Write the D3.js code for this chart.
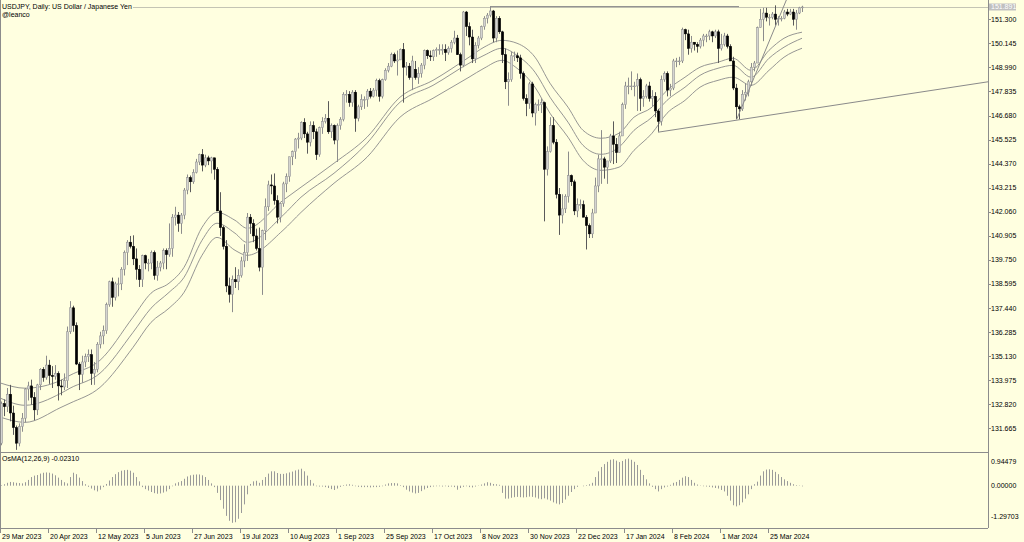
<!DOCTYPE html>
<html><head><meta charset="utf-8">
<script src="https://cdn.jsdelivr.net/npm/d3@7"></script>
<style>
body{margin:0;background:#FFFFE0;}
svg{display:block;}
text{font-family:"Liberation Sans",Arial,sans-serif;font-size:7px;fill:#000;}
</style>
</head><body><svg id="c" width="1024" height="542"></svg>
<script>
// ---------- DATA ----------
const dateLabels = ["29 Mar 2023","20 Apr 2023","12 May 2023","5 Jun 2023","27 Jun 2023","19 Jul 2023","10 Aug 2023","1 Sep 2023","25 Sep 2023","17 Oct 2023","8 Nov 2023","30 Nov 2023","22 Dec 2023","17 Jan 2024","8 Feb 2024","1 Mar 2024","25 Mar 2024"];
const dateLabelIdx = [0,16,32,48,64,80,96,112,128,144,160,176,192,208,224,240,256];
const priceTicks = [151.300,150.145,148.990,147.835,146.680,145.525,144.370,143.215,142.060,140.905,139.750,138.595,137.440,136.285,135.130,133.975,132.820,131.665];
const osmaTicks = [0.94479,0.00000,-1.29703];
const lastPrice = 151.891;
const osmaLast = -0.02310;

const opens = [130.95,132.85,132.70,133.30,132.40,131.70,130.95,131.75,132.15,133.55,
133.70,133.15,132.55,133.75,134.50,134.10,134.70,134.20,134.15,134.30,
133.70,133.65,133.95,136.30,137.45,136.60,134.75,134.25,134.85,135.10,
135.20,134.30,134.50,135.70,136.10,136.35,137.60,138.70,137.95,138.60,
138.60,139.30,140.10,140.60,140.40,139.80,139.30,138.80,139.95,139.60,
139.60,140.10,139.00,139.40,139.60,140.20,140.00,140.30,141.80,141.90,
141.50,141.90,143.10,143.70,143.50,143.95,144.45,144.80,144.30,144.65,
144.50,144.65,144.10,142.10,141.30,140.40,138.50,138.10,138.80,138.70,
139.00,139.70,140.10,141.80,141.50,140.90,140.30,139.40,141.15,142.30,
143.35,143.30,142.60,141.80,142.45,143.40,143.75,144.70,144.95,145.55,
145.60,146.35,145.80,145.40,146.20,145.90,144.80,146.10,146.40,146.55,
145.90,146.20,145.50,146.20,146.50,147.70,147.70,147.30,147.80,146.55,
147.10,147.45,147.45,147.85,147.60,147.90,148.35,147.60,148.40,148.85,
149.05,149.60,149.30,149.35,149.85,149.00,149.05,148.50,148.90,148.50,
148.70,149.10,149.80,149.55,149.50,149.80,149.85,149.85,149.85,149.70,
149.90,150.20,150.40,149.60,149.10,151.65,150.95,150.45,149.40,150.05,
150.40,150.95,151.35,151.50,151.70,150.40,151.35,150.70,149.60,148.30,
148.40,149.55,149.55,149.45,148.70,147.50,147.25,148.20,146.80,147.20,
147.20,147.30,144.10,144.95,146.20,145.40,142.90,141.90,142.20,142.80,
143.80,143.50,142.10,142.40,142.40,141.80,141.40,141.00,142.00,143.30,
144.60,144.60,144.20,144.50,145.70,145.30,144.90,145.70,147.20,148.10,
148.10,148.10,148.10,148.40,147.50,147.60,148.10,147.50,147.60,146.90,
146.40,148.40,148.70,147.90,148.00,149.30,149.30,149.30,150.80,150.60,
149.90,150.20,150.10,150.00,150.30,150.50,150.50,150.70,150.50,150.70,
149.90,150.10,150.50,150.00,149.30,148.00,147.10,147.00,147.70,147.80,
148.30,149.00,149.20,150.90,151.30,151.60,151.40,151.40,151.55,151.30,
151.35,151.35,151.65,151.55,151.65,151.30,151.60,151.85];
const highs = [132.95,133.05,133.60,133.75,132.75,131.80,131.90,132.40,133.60,133.90,
134.00,133.40,133.80,134.55,134.60,135.15,134.95,134.65,134.70,134.40,
134.00,134.30,136.55,137.77,137.55,136.75,134.85,135.15,135.25,135.45,
135.45,134.85,135.80,136.30,136.60,137.70,138.75,138.90,138.70,138.90,
139.40,140.20,140.70,140.90,140.93,140.30,139.50,140.00,140.00,139.80,
140.20,140.20,139.70,139.70,140.30,140.30,141.50,141.95,142.30,142.05,
142.00,143.20,143.85,143.80,144.10,144.60,144.85,145.07,144.80,144.75,
144.70,144.65,144.20,143.00,141.40,140.70,138.90,139.00,139.40,139.30,
139.90,140.50,142.00,141.95,141.70,141.25,141.30,141.20,142.70,143.55,
143.85,143.90,142.85,142.50,143.50,143.90,144.70,145.00,145.60,145.85,
146.40,146.55,145.90,146.40,146.40,146.05,146.15,146.60,146.75,147.37,
146.30,146.25,146.30,146.60,147.80,147.90,147.85,147.90,147.90,147.20,
147.70,147.60,147.95,148.00,148.00,148.45,148.45,148.45,148.95,149.20,
149.70,149.70,149.80,149.90,150.16,149.25,149.20,149.55,149.30,149.00,
149.20,149.85,149.85,149.80,149.85,149.95,150.10,150.10,150.10,150.00,
150.30,150.75,150.55,149.70,151.70,151.70,151.15,150.80,150.20,150.50,
151.00,151.45,151.60,151.91,151.75,151.45,151.45,150.75,149.90,148.75,
149.75,149.75,149.70,149.60,148.80,147.70,148.30,148.30,147.30,147.45,
147.50,147.35,145.20,146.60,146.60,145.55,143.20,142.90,142.90,144.95,
143.85,143.60,142.70,142.65,142.60,141.90,141.50,142.20,143.70,144.80,
145.98,144.70,144.50,145.80,146.40,145.60,145.90,147.30,148.30,148.50,
148.80,148.30,148.70,148.50,147.90,148.20,148.30,147.90,147.80,147.00,
148.60,148.80,148.80,148.20,149.40,149.45,149.50,150.90,150.85,150.80,
150.50,150.20,150.20,150.40,150.60,150.60,150.80,150.75,150.80,150.80,
150.60,150.65,150.60,150.10,149.50,148.20,147.20,147.90,148.20,148.40,
149.20,149.30,150.95,151.80,151.85,151.85,151.55,151.65,151.97,151.45,
151.45,151.75,151.80,151.80,151.80,151.75,151.90,151.95];
const lows = [130.85,132.25,132.45,132.00,131.35,130.63,130.80,131.50,131.95,133.00,
132.80,132.05,132.30,133.50,133.90,134.00,133.80,133.60,134.00,133.00,
133.25,133.50,133.60,136.20,136.30,134.70,133.50,133.85,134.60,134.85,
133.75,133.75,134.35,135.50,135.70,136.20,137.50,137.50,137.80,138.00,
138.30,139.00,139.50,140.30,139.50,138.80,138.45,138.45,139.30,139.20,
139.30,138.80,138.75,139.20,139.30,139.30,139.90,139.90,141.40,141.10,
141.00,141.70,142.90,143.00,143.40,143.90,144.30,144.00,144.20,144.30,
143.90,143.60,142.10,140.90,140.25,138.20,137.70,137.24,138.40,138.30,
138.90,139.40,139.70,141.00,140.60,140.20,139.20,138.07,140.70,142.10,
142.90,142.40,141.50,141.55,142.30,143.00,143.50,144.30,144.60,145.10,
145.50,145.60,144.85,145.20,145.55,144.55,144.70,145.80,146.30,145.80,
145.60,145.30,144.45,146.00,146.40,147.30,147.10,147.10,145.90,146.40,
146.95,147.00,147.10,147.50,147.55,147.60,147.35,147.50,148.35,148.75,
149.00,149.20,148.60,149.35,147.30,148.60,148.40,147.90,148.40,148.20,
148.50,148.90,149.40,149.30,149.30,149.50,149.60,149.60,149.30,149.60,
149.70,150.10,149.60,148.80,149.00,150.50,150.05,149.20,149.20,149.90,
150.30,150.80,151.10,151.40,150.20,150.20,150.60,149.20,147.95,147.15,
148.30,149.30,149.25,148.45,147.40,146.65,147.00,146.60,146.20,146.90,
146.80,141.60,143.80,144.90,145.30,142.70,140.95,141.50,142.00,142.50,
143.30,141.90,141.80,142.20,141.80,140.25,140.80,140.80,142.00,143.00,
143.40,143.65,143.40,144.40,144.35,144.40,144.90,145.70,147.00,147.70,
147.90,147.60,146.90,146.90,147.10,147.50,147.35,147.10,146.60,145.90,
146.20,148.30,147.60,147.60,147.90,149.00,149.10,149.20,150.30,149.60,
149.70,149.80,149.70,149.90,150.00,150.20,150.30,150.20,150.40,149.20,
149.80,150.00,149.90,149.30,147.90,146.50,146.50,146.90,147.40,147.60,
148.10,148.80,149.20,150.90,150.25,151.20,151.00,151.30,151.00,151.00,
151.20,151.30,151.45,151.50,151.00,150.80,151.55,151.65];
const closes = [132.85,132.70,133.30,132.40,131.70,130.95,131.75,132.15,133.55,133.70,
133.15,132.55,133.75,134.50,134.10,134.70,134.20,134.15,134.30,133.70,
133.65,133.95,136.30,137.45,136.60,134.75,134.25,134.85,135.10,135.20,
134.30,134.50,135.70,136.10,136.35,137.60,138.70,137.95,138.60,138.60,
139.30,140.10,140.60,140.40,139.80,139.30,138.80,139.95,139.60,139.60,
140.10,139.00,139.40,139.60,140.20,140.00,140.30,141.80,141.90,141.50,
141.90,143.10,143.70,143.50,143.95,144.45,144.80,144.30,144.65,144.50,
144.65,144.10,142.10,141.30,140.40,138.50,138.10,138.80,138.70,139.00,
139.70,140.10,141.80,141.50,140.90,140.30,139.40,141.15,142.30,143.35,
143.30,142.60,141.80,142.45,143.40,143.75,144.70,144.95,145.55,145.60,
146.35,145.80,145.40,146.20,145.90,144.80,146.10,146.40,146.55,145.90,
146.20,145.50,146.20,146.50,147.70,147.70,147.30,147.80,146.55,147.10,
147.45,147.45,147.85,147.60,147.90,148.35,147.60,148.40,148.85,149.05,
149.60,149.30,149.35,149.85,149.00,149.05,148.50,149.30,148.50,148.70,
149.10,149.80,149.55,149.50,149.80,149.85,149.85,149.85,149.70,149.90,
150.20,150.40,149.60,149.10,151.65,150.95,150.45,149.40,150.05,150.40,
150.95,151.35,151.50,151.70,150.40,151.35,150.70,149.60,148.30,148.40,
149.55,149.55,149.45,148.70,147.50,147.25,148.20,146.80,147.20,147.20,
147.30,144.10,144.95,146.20,145.40,142.90,141.90,142.20,142.80,143.80,
143.50,142.10,142.40,142.40,141.80,141.40,141.00,142.00,143.30,144.60,
144.60,144.20,144.50,145.70,145.30,144.90,145.70,147.20,148.10,148.10,
148.10,148.10,148.40,147.50,147.60,148.10,147.50,147.60,146.90,146.40,
148.40,148.70,147.90,148.00,149.30,149.30,149.30,150.80,150.60,149.90,
150.20,150.10,150.00,150.30,150.50,150.50,150.70,150.50,150.70,149.90,
150.10,150.50,150.00,149.30,148.00,147.10,147.00,147.70,147.80,148.30,
149.00,149.20,150.90,151.30,151.60,151.40,151.40,151.55,151.30,151.35,
151.35,151.65,151.55,151.65,151.30,151.60,151.85,151.89];

// Moving-average channel (bar index, price)
const maIdx   = [0,8,20,23,33,44,50,56,61,67,72,78,82,94,100,111,122,133,144,156,161,167,172,178,183,189,194,200,206,211,217,222,228,233,239,244,250,256,261,267];
const maUpper = [133.83,133.59,133.97,134.21,134.93,137.00,138.15,138.63,139.39,141.31,142.03,141.65,141.27,142.61,143.24,144.39,145.64,147.56,148.37,149.48,149.96,150.29,150.15,149.48,148.23,147.08,145.97,145.59,145.83,146.60,147.08,147.89,148.52,149.00,149.24,149.43,148.85,149.81,150.39,150.68];
const maMid   = [133.10,132.77,133.35,133.59,134.31,136.27,137.43,138.19,138.91,140.69,141.51,141.03,140.59,141.89,142.76,143.91,145.35,147.32,148.13,149.19,149.57,149.91,149.57,148.76,147.56,146.36,145.25,144.82,145.16,145.97,146.60,147.41,148.04,148.61,148.95,149.09,148.52,149.43,149.96,150.39];
const maLower = [132.19,131.95,132.67,132.87,133.63,135.55,136.75,137.43,138.19,139.97,140.83,140.21,139.97,141.17,142.03,143.43,144.68,146.60,147.51,148.52,148.95,149.33,148.95,148.04,146.79,145.64,144.53,144.05,144.20,145.01,145.83,146.79,147.41,148.04,148.37,148.52,148.13,148.85,149.48,149.91];

const osma = [0.02,0.05,0.10,0.13,0.12,0.10,0.09,0.08,0.12,0.20,
0.30,0.35,0.37,0.42,0.45,0.46,0.45,0.42,0.36,0.28,
0.20,0.12,0.08,0.30,0.45,0.40,0.28,0.16,0.05,-0.04,
-0.10,-0.16,-0.20,-0.14,-0.05,0.06,0.18,0.30,0.40,0.47,
0.52,0.54,0.55,0.52,0.45,0.30,0.15,-0.05,-0.12,-0.17,
-0.22,-0.26,-0.28,-0.27,-0.24,-0.20,-0.12,-0.02,0.08,0.12,
0.16,0.24,0.32,0.36,0.38,0.39,0.39,0.36,0.30,0.20,
0.08,-0.05,-0.25,-0.50,-0.80,-1.05,-1.22,-1.29,-1.27,-1.15,
-0.95,-0.65,-0.30,0.06,0.15,0.17,0.10,0.20,0.30,0.42,
0.50,0.50,0.44,0.41,0.41,0.43,0.46,0.49,0.53,0.56,
0.59,0.50,0.35,0.20,0.08,-0.02,-0.03,-0.03,-0.05,-0.08,
-0.12,-0.15,-0.10,-0.04,0.02,0.04,0.05,0.03,-0.02,-0.04,
-0.05,-0.05,-0.05,-0.06,-0.05,-0.05,-0.04,-0.02,0.04,0.08,
0.09,0.09,0.08,0.02,-0.05,-0.14,-0.20,-0.24,-0.27,-0.25,
-0.19,-0.13,-0.08,-0.05,-0.03,-0.02,-0.02,-0.03,-0.02,-0.04,
-0.03,-0.05,-0.14,-0.08,-0.04,-0.02,-0.05,-0.06,-0.03,0.01,
0.04,0.08,0.12,0.10,0.06,0.05,0.03,-0.25,-0.45,-0.45,
-0.42,-0.40,-0.39,-0.40,-0.41,-0.40,-0.38,-0.39,-0.41,-0.45,
-0.47,-0.44,-0.48,-0.52,-0.58,-0.62,-0.65,-0.60,-0.48,-0.35,
-0.22,-0.12,-0.04,0.00,-0.02,0.02,0.05,0.10,0.30,0.50,
0.65,0.75,0.83,0.90,0.92,0.87,0.82,0.86,0.92,0.94,
0.90,0.83,0.72,0.55,0.37,0.22,0.08,-0.04,-0.12,-0.20,
-0.12,-0.06,-0.03,0.03,0.10,0.13,0.20,0.28,0.33,0.30,
0.20,0.10,0.04,-0.01,-0.02,-0.03,-0.04,-0.06,-0.08,-0.10,
-0.15,-0.20,-0.35,-0.52,-0.68,-0.72,-0.68,-0.58,-0.45,-0.30,
-0.12,0.05,0.14,0.35,0.50,0.56,0.57,0.55,0.48,0.40,
0.30,0.22,0.16,0.10,0.05,0.02,-0.01,-0.0231];

// drawn objects: [bar index, price]
const hLine = [[163,151.91],[246,151.91]];
const supportLine = [[219,145.88],[329,148.30]];
const steepLine = [[245.3,146.52],[262,152.30]];

// ---------- LAYOUT ----------
const svg = d3.select("#c");
const W = 1024, H = 542;
const plotR = 988, mainTop = 0, mainBot = 452.5, oscTop = 453.5, oscBot = 528;
const bg = "#FFFFE0";
svg.append("rect").attr("width",W).attr("height",H).attr("fill",bg);

const x = d3.scaleLinear().domain([0,329]).range([1,988]);
const y = d3.scaleLinear().domain([131.665,151.300]).range([428.3,19.3]);
const yo = d3.scaleLinear().domain([-1.29703,0.94479]).range([523,458.5]);

const defs = svg.append("defs");
defs.append("clipPath").attr("id","mainClip").append("rect").attr("x",0).attr("y",mainTop).attr("width",plotR).attr("height",mainBot-mainTop);
defs.append("clipPath").attr("id","oscClip").append("rect").attr("x",0).attr("y",oscTop).attr("width",plotR).attr("height",oscBot-oscTop);

const main = svg.append("g").attr("clip-path","url(#mainClip)");

// bid line (current price)
const by = Math.round(y(lastPrice)) + 0.5;
main.append("line").attr("x1",0).attr("x2",plotR).attr("y1",by).attr("y2",by).attr("stroke","#c4c4b4").attr("stroke-width",1);

// MA channel
const line = d3.line().x(d=>x(d[0])).y(d=>y(d[1])).curve(d3.curveMonotoneX);
[maUpper,maMid,maLower].forEach(arr=>{
  main.append("path").attr("d",line(maIdx.map((i,k)=>[i,arr[k]])))
    .attr("fill","none").attr("stroke","#8a8a8a").attr("stroke-width",0.9);
});

// candles
const idx = d3.range(closes.length);
const cg = main.append("g");
idx.forEach(i=>{
  const up = closes[i] >= opens[i];
  const cx = Math.round(x(i)) + 0.5;
  cg.append("line").attr("x1",cx).attr("x2",cx).attr("y1",y(highs[i])).attr("y2",y(lows[i]))
    .attr("stroke", up ? "#8c8c8c" : "#5a5a5a").attr("stroke-width",1);
  const top = y(Math.max(opens[i],closes[i])), bot = y(Math.min(opens[i],closes[i]));
  cg.append("rect").attr("x",cx-1.2).attr("width",2.4).attr("y",top).attr("height",Math.max(0.8,bot-top))
    .attr("fill", up ? "#d4d4d0" : "#000").attr("stroke", up ? "#8c8c8c" : "#000").attr("stroke-width",0.5);
});

// trend lines
[hLine,supportLine,steepLine].forEach(l=>{
  main.append("line").attr("x1",x(l[0][0])).attr("y1",y(l[0][1])).attr("x2",x(l[1][0])).attr("y2",y(l[1][1]))
    .attr("stroke","#8a8a8a").attr("stroke-width",1);
});

// OsMA histogram
const og = svg.append("g").attr("clip-path","url(#oscClip)");
osma.forEach((v,i)=>{
  const cx = Math.round(x(i)) + 0.5;
  og.append("line").attr("x1",cx).attr("x2",cx).attr("y1",yo(0)).attr("y2",yo(v))
    .attr("stroke","#9a9a9a").attr("stroke-width",1);
});

// frame lines
const frame = "#8c8c8c";
svg.append("line").attr("x1",plotR+0.5).attr("x2",plotR+0.5).attr("y1",0).attr("y2",oscBot).attr("stroke",frame);
svg.append("line").attr("x1",0.5).attr("x2",0.5).attr("y1",0).attr("y2",oscBot).attr("stroke",frame);
svg.append("line").attr("x1",0).attr("x2",plotR).attr("y1",mainBot).attr("y2",mainBot).attr("stroke",frame);
svg.append("line").attr("x1",0).attr("x2",plotR).attr("y1",oscBot+0.5).attr("y2",oscBot+0.5).attr("stroke",frame);

// price axis
const pa = svg.append("g");
priceTicks.forEach(p=>{
  const yy = y(p);
  pa.append("line").attr("x1",plotR).attr("x2",plotR+3).attr("y1",Math.round(yy)+0.5).attr("y2",Math.round(yy)+0.5).attr("stroke",frame);
  pa.append("text").attr("x",plotR+3).attr("y",yy+2.5).text(p.toFixed(3));
});
// last price tag
const ly = y(lastPrice);
pa.append("rect").attr("x",plotR+1).attr("y",ly-3.5).attr("width",27).attr("height",7).attr("fill","#c0c0c0");
pa.append("text").attr("x",plotR+3).attr("y",ly+2.5).style("fill","#fff").text(lastPrice.toFixed(3));

// osma axis
osmaTicks.forEach((v,k)=>{
  let yy = yo(v);
  if(k===0) yy += 3.2;
  if(k===2) yy -= 6.3;
  pa.append("text").attr("x",plotR+3).attr("y",yy+2.5).text(v.toFixed(5));
});

// time axis
dateLabels.forEach((lab,k)=>{
  const xx = Math.round(x(dateLabelIdx[k]) - 1) + 0.5;
  svg.append("line").attr("x1",xx).attr("x2",xx).attr("y1",oscBot).attr("y2",oscBot+5).attr("stroke",frame);
  svg.append("text").attr("x",xx+1.5).attr("y",538.5).text(lab);
});

// titles (drawn with background like the terminal does)
function label(tx, ty, s){
  const t = svg.append("text").attr("x",tx).attr("y",ty).text(s);
  const b = t.node().getBBox();
  svg.insert("rect", function(){ return t.node(); }).attr("x",b.x-1).attr("y",b.y).attr("width",b.width+2).attr("height",b.height).attr("fill",bg);
}
label(2, 9, "USDJPY, Daily:  US Dollar / Japanese Yen");
label(2, 17.3, "@leanco");
label(2, 461, "OsMA(12,26,9) " + osmaLast.toFixed(5));
</script>
</body></html>
